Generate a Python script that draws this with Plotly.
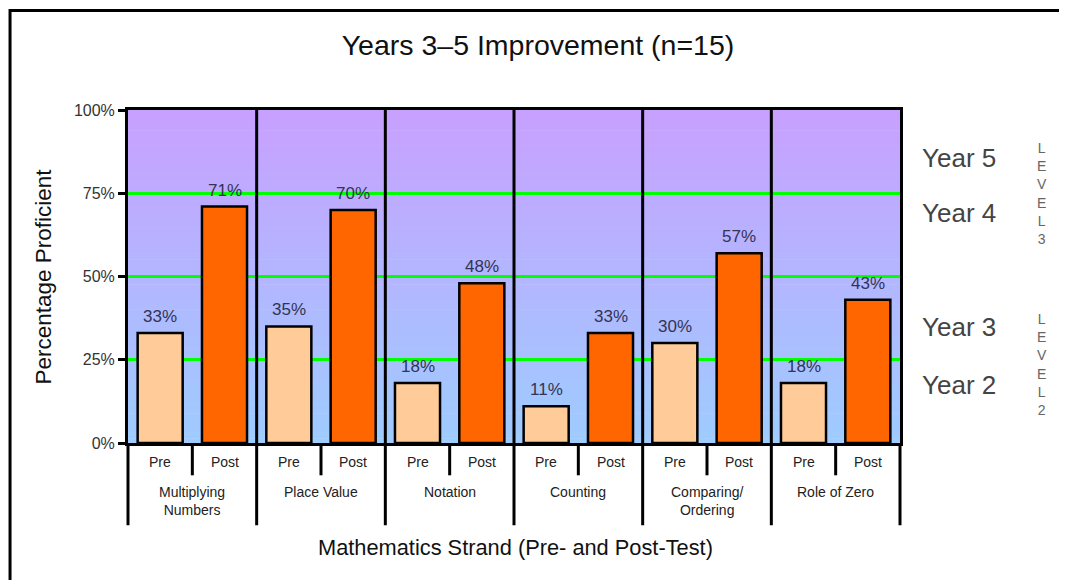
import plotly.graph_objects as go

# ---- data ----
strands = ["Multiplying<br>Numbers", "Place Value", "Notation", "Counting",
           "Comparing/<br>Ordering", "Role of Zero"]
pre_values = [33, 35, 18, 11, 30, 18]
post_values = [71, 70, 48, 33, 57, 43]
phase_labels = ["Pre", "Post"]
y_ticks = [0, 25, 50, 75, 100]
y_tick_labels = ["0%", "25%", "50%", "75%", "100%"]
year_labels = ["Year 5", "Year 4", "Year 3", "Year 2"]
year_label_y = [85.6, 69.1, 34.8, 17.4]
level_labels = ["LEVEL 3", "LEVEL 2"]
level_label_y = [74.8, 23.7]

FONT = "Liberation Sans, Arial, sans-serif"
PRE_COLOR = "#FFCC99"
POST_COLOR = "#FF6600"

n = len(strands)
pre_x = [2 * i for i in range(n)]
post_x = [2 * i + 1 for i in range(n)]

fig = go.Figure()
fig.add_trace(go.Bar(x=pre_x, y=pre_values, width=0.7, marker_color=PRE_COLOR,
                     marker_line=dict(color="black", width=2.5), name="Pre",
                     showlegend=False))
fig.add_trace(go.Bar(x=post_x, y=post_values, width=0.7, marker_color=POST_COLOR,
                     marker_line=dict(color="black", width=2.5), name="Post",
                     showlegend=False))

shapes = []
# gradient background (purple top -> light blue bottom)
steps = 80
top = (200, 160, 255)
bot = (158, 204, 255)
for k in range(steps):
    t = (k + 0.5) / steps
    c = tuple(int(round(bot[j] + (top[j] - bot[j]) * t)) for j in range(3))
    shapes.append(dict(type="rect", xref="paper", yref="paper",
                       x0=0, x1=1, y0=k / steps, y1=(k + 1) / steps + 0.002,
                       fillcolor="rgb(%d,%d,%d)" % c, line=dict(width=0),
                       layer="below"))

# group separators (through plot and label table)
for g in range(n + 1):
    xp = g / n
    y1 = 1 if 0 < g < n else 0
    shapes.append(dict(type="line", xref="paper", yref="paper",
                       x0=xp, x1=xp, y0=-0.247, y1=y1,
                       line=dict(color="black", width=3)))
# pre/post separators in label table
for g in range(n):
    xp = (2 * g + 1) / (2 * n)
    shapes.append(dict(type="line", xref="paper", yref="paper",
                       x0=xp, x1=xp, y0=-0.097, y1=0,
                       line=dict(color="black", width=3)))
# outer chart frame
shapes.append(dict(type="rect", xref="paper", yref="paper",
                   x0=-0.1528, x1=1.3, y0=-0.6, y1=1.299,
                   line=dict(color="black", width=3), fillcolor="rgba(0,0,0,0)"))

annotations = []
# data labels
for xs, vals in ((pre_x, pre_values), (post_x, post_values)):
    for x, v in zip(xs, vals):
        annotations.append(dict(x=x, y=v, xref="x", yref="y", text=f"{v}%",
                                showarrow=False, yanchor="bottom", yshift=5,
                                font=dict(family=FONT, size=17, color="#333355")))
# Pre / Post labels
for i in range(n):
    for j, lab in enumerate(phase_labels):
        annotations.append(dict(x=2 * i + j, y=-0.057, xref="x", yref="paper",
                                text=lab, showarrow=False, yanchor="middle",
                                font=dict(family=FONT, size=14, color="#222")))
    annotations.append(dict(x=2 * i + 0.5, y=-0.118, xref="x", yref="paper",
                            text=strands[i], showarrow=False, yanchor="top",
                            font=dict(family=FONT, size=14, color="#222")))
# axis titles
annotations.append(dict(x=0.502, y=-0.315, xref="paper", yref="paper",
                        xanchor="center", yanchor="middle",
                        text="Mathematics Strand (Pre- and Post-Test)",
                        showarrow=False, font=dict(family=FONT, size=21.8, color="#111")))
annotations.append(dict(x=-0.110, y=0.5, xref="paper", yref="paper",
                        xanchor="center", yanchor="middle",
                        text="Percentage Proficient", textangle=-90,
                        showarrow=False, font=dict(family=FONT, size=22.5, color="#111")))
# year labels
for lab, yv in zip(year_labels, year_label_y):
    annotations.append(dict(x=1.026, y=yv, xref="paper", yref="y", text=lab,
                            showarrow=False, xanchor="left", yanchor="middle",
                            font=dict(family=FONT, size=26, color="#444")))
# level labels (stacked letters)
for lab, yv in zip(level_labels, level_label_y):
    stacked = "<br>".join(ch for ch in lab if ch != " ")
    annotations.append(dict(x=1.184, y=yv, xref="paper", yref="y", text=stacked,
                            showarrow=False, xanchor="center", yanchor="middle",
                            font=dict(family=FONT, size=14, color="#666")))

W, H = 1059, 572
fig.update_layout(
    width=W, height=H,
    margin=dict(l=120, r=W - 120 - 772, t=102, b=H - 102 - 333),
    paper_bgcolor="white", plot_bgcolor="rgba(0,0,0,0)",
    barmode="overlay",
    title=dict(text="Years 3\u20135 Improvement (n=15)", x=530 / W, xref="container",
               y=1 - 37 / H, yref="container", xanchor="center", yanchor="middle",
               font=dict(family=FONT, size=28.5, color="#111")),
    shapes=shapes, annotations=annotations,
    xaxis=dict(range=[-0.5, 2 * n - 0.5], showticklabels=False, ticks="",
               showgrid=False, zeroline=False, showline=True, linecolor="black",
               linewidth=3, mirror=True, fixedrange=True),
    yaxis=dict(range=[0, 100], tickvals=y_ticks, ticktext=y_tick_labels,
               ticks="outside", ticklen=7, tickwidth=3, tickcolor="black",
               showgrid=True, gridcolor="#00FF00", gridwidth=2.5, zeroline=False,
               showline=True, linecolor="black", linewidth=3, mirror=True,
               tickfont=dict(family=FONT, size=16, color="#333"), fixedrange=True),
)

fig.write_html("out.html")
